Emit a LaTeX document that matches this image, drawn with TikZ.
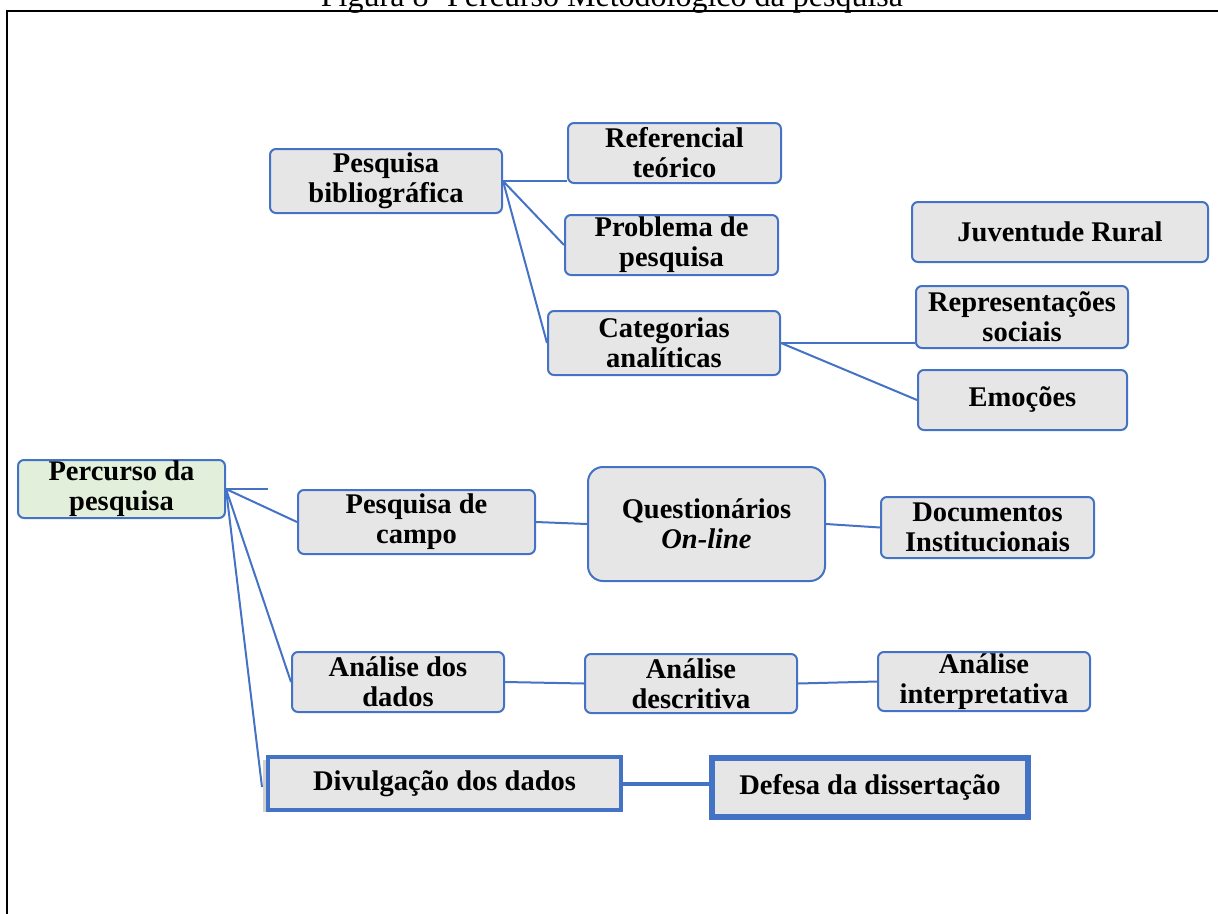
\documentclass[tikz,border=0pt]{standalone}
\usepackage{fontspec}
\setmainfont{Liberation Serif}
\definecolor{bblue}{RGB}{68,114,196}
\definecolor{bgray}{RGB}{231,230,230}
\definecolor{bgreen}{RGB}{226,239,218}
\tikzset{
  box/.style={draw=bblue, fill=bgray, line width=2pt, rounded corners=6pt,
    align=center, inner sep=0pt, anchor=north west,
    font=\bfseries\fontsize{28.5}{30}\selectfont},
  link/.style={draw=bblue, line width=2pt},
  shadowbox/.style={fill=black!18, draw=none},
}
\begin{document}
\begin{tikzpicture}[x=1pt,y=-1pt]
\useasboundingbox (0,0) rectangle (1218,913);
% frame and title
\draw[line width=2.2pt, black] (7,11) rectangle (1240,940);
\node[font=\fontsize{32}{34}\selectfont, anchor=base, inner sep=0pt] (title) at (612,6) {Figura 8- Percurso Metodológico da pesquisa};

% nodes
\node[box, fill=bgreen, minimum width=207, minimum height=58] (perc) at (17,459) {Percurso da\\pesquisa};
\node[box, minimum width=232, minimum height=64] (pbib) at (269,148) {Pesquisa\\bibliográfica};
\node[box, minimum width=213, minimum height=60] (ref) at (567,122) {Referencial\\teórico};
\node[box, minimum width=213, minimum height=60] (prob) at (564,214) {Problema de\\pesquisa};
\node[box, minimum width=232, minimum height=64] (cat) at (547,310) {Categorias\\analíticas};
\node[box, minimum width=296, minimum height=60] (juv) at (911,201) {Juventude Rural};
\node[box, minimum width=212, minimum height=62] (rep) at (915,285) {Representações\\sociais};
\node[box, minimum width=209, minimum height=60] (emo) at (917,369) {Emoções};
\node[box, minimum width=237, minimum height=64] (pcampo) at (297,489) {Pesquisa de\\campo};
\node[box, rounded corners=15pt, minimum width=237, minimum height=114] (quest) at (587,466) {Questionários\\\textit{On-line}};
\node[box, minimum width=213, minimum height=61] (doc) at (880,496) {Documentos\\Institucionais};
\node[box, minimum width=212, minimum height=60] (adados) at (291,651) {Análise dos\\dados};
\node[box, minimum width=212, minimum height=59] (adesc) at (584,653) {Análise\\descritiva};
\node[box, minimum width=212, minimum height=59] (ainterp) at (877,651) {Análise\\interpretativa};

% shadows for the square boxes
\fill[shadowbox] (263,760) rectangle (615,812);
\fill[shadowbox] (712,762) rectangle (1028,818);
\node[box, rounded corners=0pt, line width=4pt, minimum width=353, minimum height=53] (div) at (266,755) {Divulgação dos dados};
\node[box, rounded corners=0pt, line width=6pt, minimum width=316, minimum height=59] (def) at (709,755) {Defesa da dissertação};

% free ends
\coordinate (dang) at (268,488);
\coordinate (divend) at (262,787);

% connectors
\draw[link] (pbib.east) -- (pbib.east -| ref.west);
\draw[link] (pbib.east) -- (prob.west);
\draw[link] (pbib.east) -- (cat.west);
\draw[link] (cat.east) -- (cat.east -| rep.west);
\draw[link] (cat.east) -- (emo.west);
\draw[link] (perc.east) -- (perc.east -| dang);
\draw[link] (perc.east) -- (pcampo.west);
\draw[link] (perc.east) -- (adados.west);
\draw[link] (perc.east) -- (divend);
\draw[link] (pcampo.east) -- (quest.west);
\draw[link] (quest.east) -- (doc.west);
\draw[link] (adados.east) -- (adesc.west);
\draw[link] (adesc.east) -- (ainterp.west);
\draw[link, line width=4pt] (div.east) -- (div.east -| def.west);
\end{tikzpicture}
\end{document}
